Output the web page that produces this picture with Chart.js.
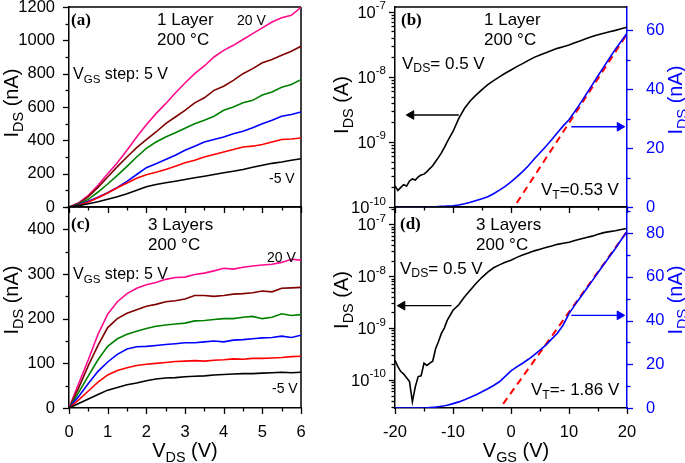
<!DOCTYPE html>
<html><head><meta charset="utf-8">
<script src="https://cdn.jsdelivr.net/npm/chart.js@4"></script>
<style>
html,body{margin:0;padding:0;background:#fff;}
body{width:685px;height:463px;overflow:hidden;position:relative;font-family:"Liberation Sans",Arial,sans-serif;}
canvas{position:absolute;}
.t{position:absolute;white-space:nowrap;line-height:1;color:#000;font-size:17px;z-index:5;}
.t sub{font-size:72%;vertical-align:baseline;position:relative;top:0.32em;}
.s14{font-size:14px;}
.s16{font-size:16px;}
.lbl{font-family:"Liberation Serif","Times New Roman",serif;font-weight:bold;font-size:17px;}
.rot{font-size:20px;transform:translate(-50%,-50%) rotate(-90deg);}
.hor{font-size:20px;transform:translate(-50%,-50%);}
.blue{color:#0000ff;}
</style>
</head><body>
<canvas id="cA" width="345" height="232" style="left:0;top:0"></canvas>
<canvas id="cC" width="345" height="263" style="left:0;top:200px"></canvas>
<canvas id="cB" width="345" height="232" style="left:340px;top:0"></canvas>
<canvas id="cD" width="345" height="263" style="left:340px;top:200px"></canvas>

<div class="t lbl" style="left:71px;top:11px">(a)</div>
<div class="t" style="left:157px;top:11px">1 Layer</div>
<div class="t" style="left:157px;top:31px">200 °C</div>
<div class="t s14" style="left:237px;top:13px">20 V</div>
<div class="t s16" style="left:73px;top:66px">V<sub>GS</sub> step: 5 V</div>
<div class="t s14" style="left:269px;top:171px">-5 V</div>

<div class="t lbl" style="left:71px;top:215px">(c)</div>
<div class="t" style="left:148px;top:216px">3 Layers</div>
<div class="t" style="left:148px;top:235.5px">200 °C</div>
<div class="t s14" style="left:267px;top:250px">20 V</div>
<div class="t s16" style="left:73px;top:266px">V<sub>GS</sub> step: 5 V</div>
<div class="t s14" style="left:272px;top:381px">-5 V</div>

<div class="t lbl" style="left:401px;top:11px">(b)</div>
<div class="t" style="left:484px;top:11px">1 Layer</div>
<div class="t" style="left:484px;top:31px">200 °C</div>
<div class="t" style="left:402px;top:54.5px">V<sub>DS</sub>= 0.5 V</div>
<div class="t" style="left:541px;top:181px">V<sub>T</sub>=0.53 V</div>

<div class="t lbl" style="left:400px;top:215px">(d)</div>
<div class="t" style="left:476px;top:216px">3 Layers</div>
<div class="t" style="left:476px;top:235.5px">200 °C</div>
<div class="t" style="left:400px;top:259.5px">V<sub>DS</sub>= 0.5 V</div>
<div class="t" style="left:531px;top:381px">V<sub>T</sub>=- 1.86 V</div>

<div class="t rot" style="left:11px;top:103px">I<sub>DS</sub> (nA)</div>
<div class="t rot" style="left:11px;top:300px">I<sub>DS</sub> (nA)</div>
<div class="t rot" style="left:341px;top:105px">I<sub>DS</sub> (A)</div>
<div class="t rot" style="left:341px;top:300px">I<sub>DS</sub> (A)</div>
<div class="t rot blue" style="left:675px;top:100px">I<sub>DS</sub> (nA)</div>
<div class="t rot blue" style="left:675px;top:300px">I<sub>DS</sub> (nA)</div>
<div class="t hor" style="left:185px;top:450px">V<sub>DS</sub> (V)</div>
<div class="t hor" style="left:516px;top:450px">V<sub>GS</sub> (V)</div>

<script>
// ---------------- DATA ----------------
// Panel (a): 1 layer output curves, I_DS (nA) vs V_DS (V), V_GS = -5..20 V
const aVds = [0,0.25,0.5,0.75,1,1.25,1.5,1.75,2,2.25,2.5,2.75,3,3.25,3.5,3.75,4,4.25,4.5,4.75,5,5.25,5.5,5.75,6];
const aI20 = [0,25,70,130,200,265,340,420,494,560,620,684,744,800,846,900,940,970,1005,1040,1075,1110,1135,1150,1198];
const aI15 = [0,22,62,118,180,242,300,356,404,450,500,540,580,625,655,700,725,760,800,830,865,885,910,935,964];
const aI10 = [0,18,46,90,138,190,244,300,352,390,420,445,472,500,520,545,580,600,625,640,672,690,718,735,764];
const aI5  = [0,14,34,58,86,118,154,195,236,260,285,310,340,365,390,405,420,440,455,475,500,520,545,555,570];
const aI0  = [0,10,30,55,84,115,144,172,194,208,225,245,265,280,300,315,330,345,360,365,375,390,405,408,414];
const aIm5 = [0,8,20,32,46,62,80,100,122,135,145,155,165,175,185,195,205,215,225,238,250,262,270,280,290];

// Panel (c): 3 layers output curves
const cVds = [0,0.25,0.5,0.75,1,1.25,1.5,1.75,2,2.25,2.5,2.75,3,3.25,3.5,3.75,4,4.25,4.5,4.75,5,5.25,5.5,5.75,6];
const cI20 = [0,55,108,165,210,238,256,268,276,281,288,292,293,299,302,307,313,311,315,318,320,322,326,333,331];
const cI15 = [0,45,95,140,180,200,212,220,228,232,238,240,244,252,252,250,252,255,256,258,262,260,268,269,270];
const cI10 = [0,35,72,108,138,155,165,172,178,183,186,188,190,195,196,198,200,200,203,205,200,203,211,207,209];
const cI5  = [0,26,55,82,103,120,132,137,138,140,142,144,146,146,148,150,148,152,153,155,157,158,161,158,163];
const cI0  = [0,18,38,58,74,84,90,95,98,100,102,104,105,106,105,107,108,110,109,111,111,112,113,115,116];
const cIm5 = [0,10,20,30,40,46,52,56,61,65,67,68,70,71,72,74,75,76,77,77,78,79,80,79,80];

// Panel (b): 1 layer transfer curve, V_DS = 0.5 V
const bVgs = [-20,-19.5,-19,-18.5,-18,-17.5,-17,-16.5,-16,-15.5,-15,-14.5,-14,-13.5,-13,-12.5,-12,-11.5,-11,
  -10,-9,-8,-7,-6,-5,-4,-3,-2,-1,0,1,2,3,4,5,6,7,8,9,10,11,12,13,14,15,16,17,18,19,20];
const bLog = [2.1e-10,1.8e-10,2.0e-10,2.2e-10,2.1e-10,2.5e-10,2.7e-10,2.6e-10,2.9e-10,3.1e-10,3.2e-10,3.5e-10,3.9e-10,4.3e-10,5.0e-10,5.8e-10,6.8e-10,8.2e-10,1.0e-9,
  1.45e-9,2.3e-9,3.3e-9,4.3e-9,5.3e-9,6.4e-9,7.6e-9,8.8e-9,1.0e-8,1.14e-8,1.28e-8,1.44e-8,1.6e-8,1.8e-8,2.0e-8,2.18e-8,2.35e-8,2.55e-8,2.75e-8,2.92e-8,3.1e-8,3.35e-8,3.6e-8,3.9e-8,4.2e-8,4.45e-8,4.7e-8,4.95e-8,5.2e-8,5.5e-8,5.8e-8];
const bLin = [0,0,0,0,0,0,0,0,0,0,0,0,0.05,0.1,0.1,0.15,0.2,0.25,0.3,
  0.4,0.7,1.1,1.6,2.2,2.8,3.5,4.5,5.7,7.0,8.5,10.2,12.0,14.0,16.3,18.4,20.5,22.8,25.2,27.5,29.6,32.4,35.3,38.3,41.4,44.5,47.5,50.5,53.5,56.2,58.9];
const bFitX = [1.0, 20];
const bFitY = [1.4, 58.6];

// Panel (d): 3 layers transfer curve
const dVgs = [-20,-19.5,-19,-18.5,-18,-17.5,-17,-16.5,-16,-15.5,-15,-14.5,-14,-13.5,-13,-12.5,-12,-11.5,-11,
  -10,-9,-8,-7,-6,-5,-4,-3,-2,-1,0,1,2,3,4,5,6,7,8,9,10,11,12,13,14,15,16,17,18,19,20];
const dLog = [2.4e-10,1.8e-10,1.45e-10,1.3e-10,1.1e-10,0.93e-10,3.8e-11,7.4e-11,1.16e-10,1.2e-10,2.1e-10,1.9e-10,2.1e-10,2.3e-10,4.0e-10,5.5e-10,7.9e-10,1.0e-9,1.4e-9,
  2.2e-9,2.8e-9,4.0e-9,5.4e-9,7.3e-9,9.5e-9,1.2e-8,1.45e-8,1.65e-8,1.85e-8,2.03e-8,2.3e-8,2.55e-8,2.8e-8,3.07e-8,3.3e-8,3.55e-8,3.8e-8,4.1e-8,4.3e-8,4.5e-8,4.85e-8,5.2e-8,5.55e-8,5.9e-8,6.4e-8,6.9e-8,7.2e-8,7.5e-8,7.9e-8,8.3e-8];
const dLin = [0,0,0,0,0,0,0,0,0,0,0,0,0.2,0.3,0.4,0.6,0.8,1.0,1.3,
  2.0,2.8,3.8,4.9,6.1,7.4,8.8,10.3,12.0,14.5,17.0,18.8,20.5,22.3,24.3,26.5,28.8,31.5,34.2,38.0,43.2,47.1,50.8,54.5,58.2,62.0,65.7,69.3,73.0,77.0,80.8];
const dFitX = [-1.35, 20];
const dFitY = [1.9, 80.8];

// Arrows (start, end) pointing to their axes
const bArrowLeftX = [-9.0, -17.2],  bArrowLeftY = [2.6e-9, 2.6e-9];
const bArrowRightX = [10.4, 18.75], bArrowRightY = [27.2, 27.2];
const dArrowLeftX = [-10.25, -18.74], dArrowLeftY = [2.7e-9, 2.7e-9];
const dArrowRightX = [10.4, 18.74], dArrowRightY = [42.4, 42.4];

// Tick positions / labels
const acXMajor = [0,1,2,3,4,5,6], acXMinor = [0.5,1.5,2.5,3.5,4.5,5.5];
const aYMajor = [0,200,400,600,800,1000,1200], aYMinor = [100,300,500,700,900,1100];
const cYMajor = [0,100,200,300,400], cYMinor = [50,150,250,350,450];
const bdXMajor = [-20,-10,0,10,20], bdXMinor = [-15,-5,5,15];
const bLogMajor = [1e-10,1e-9,1e-8,1e-7];
const bLogMinor = [2e-10,3e-10,4e-10,5e-10,6e-10,7e-10,8e-10,9e-10,2e-9,3e-9,4e-9,5e-9,6e-9,7e-9,8e-9,9e-9,2e-8,3e-8,4e-8,5e-8,6e-8,7e-8,8e-8,9e-8];
const dLogMajor = [1e-10,1e-9,1e-8,1e-7];
const dLogMinor = [3e-11,4e-11,5e-11,6e-11,7e-11,8e-11,9e-11,2e-10,3e-10,4e-10,5e-10,6e-10,7e-10,8e-10,9e-10,2e-9,3e-9,4e-9,5e-9,6e-9,7e-9,8e-9,9e-9,2e-8,3e-8,4e-8,5e-8,6e-8,7e-8,8e-8,9e-8,2e-7];
const bRMajor = [0,20,40,60], bRMinor = [10,30,50];
const dRMajor = [0,20,40,60,80], dRMinor = [10,30,50,70,90];

// ---------------- DRAWING ----------------
const FONT = "'Liberation Sans', Arial, sans-serif";
Chart.defaults.font.family = FONT;
Chart.defaults.color = '#000';
const BLACK='#000000', RED='#ff0000', BLUE='#0000ff', GREEN='#008000', BROWN='#800000', PINK='#ff0a8c';

function zeroPad(s){ s.paddingTop=0; s.paddingBottom=0; s.paddingLeft=0; s.paddingRight=0; }
function pts(xs, ys){ return xs.map((x,i)=>({x:x, y:ys[i]})); }
function line(xs, ys, color, axis, extra){
  return Object.assign({data:pts(xs,ys), borderColor:color, backgroundColor:color, borderWidth:1.6, pointRadius:0, tension:0, fill:false, yAxisID:axis||'y'}, extra||{});
}
function arrow(xs, ys, color, axis, rot){
  return {data:pts(xs,ys), borderColor:color, backgroundColor:color, borderWidth:1.4, tension:0, fill:false, yAxisID:axis,
    pointRadius:[0,5], pointStyle:['circle','triangle'], pointRotation:rot, pointBackgroundColor:color, pointBorderColor:color, pointBorderWidth:1};
}

const tickPlugin = {
  id:'tickMarks',
  afterDraw(chart, args, opts){
    const ctx=chart.ctx, a=chart.chartArea;
    (opts.list||[]).forEach(d=>{
      const s=chart.scales[d.scale];
      ctx.save(); ctx.strokeStyle=d.color||'#000'; ctx.lineWidth=1.3;
      const draw=(v,len)=>{
        const p=Math.round(s.getPixelForValue(v))+0.5;
        ctx.beginPath();
        if(d.side==='bottom'){ ctx.moveTo(p,a.bottom); ctx.lineTo(p,a.bottom+len); }
        else if(d.side==='left'){ ctx.moveTo(a.left,p); ctx.lineTo(a.left-len,p); }
        else { ctx.moveTo(a.right,p); ctx.lineTo(a.right+len,p); }
        ctx.stroke();
      };
      d.major.forEach(v=>draw(v,6));
      d.minor.forEach(v=>draw(v,3.5));
      if(d.logLabels){
        // decade labels "10" with a raised exponent, placed by the log scale
        ctx.fillStyle='#000'; ctx.textBaseline='alphabetic'; ctx.textAlign='left';
        d.major.forEach(v=>{
          const p=s.getPixelForValue(v);
          const base='10', ex=String(Math.round(Math.log10(v)));
          ctx.font='16.5px '+FONT; const wb=ctx.measureText(base).width;
          ctx.font='11.5px '+FONT; const we=ctx.measureText(ex).width;
          const xr=a.left-9;
          ctx.font='16.5px '+FONT; ctx.fillText(base, xr-we-wb, p+6);
          ctx.font='11.5px '+FONT; ctx.fillText(ex, xr-we, p-2.5);
        });
      }
      ctx.restore();
    });
  }
};
const framePlugin = {
  id:'frame',
  beforeDatasetsDraw(chart, args, opts){
    const a=chart.chartArea, ctx=chart.ctx;
    ctx.save(); ctx.strokeStyle='#000'; ctx.lineWidth=1.5; ctx.beginPath();
    if((opts.sides||[]).includes('top')){ ctx.moveTo(a.left,a.top); ctx.lineTo(a.right,a.top); }
    if((opts.sides||[]).includes('right')){ ctx.moveTo(a.right,a.top); ctx.lineTo(a.right,a.bottom); }
    ctx.stroke(); ctx.restore();
  }
};

function xAxis(min,max,step,showLabels,h){
  return {type:'linear', position:'bottom', min:min, max:max, grid:{display:false}, border:{color:'#000',width:1.5},
    ticks:{display:showLabels, stepSize:step, padding:7, font:{size:16.5}, color:'#000', maxRotation:0, autoSkip:false, includeBounds:false, callback:(v)=>String(v)},
    afterFit:s=>{ s.height=h; zeroPad(s); }};
}
function yLin(min,max,step,w,color,pos){
  return {type:'linear', position:pos||'left', min:min, max:max, grid:{display:false}, border:{color:color||'#000',width:1.5},
    ticks:{stepSize:step, padding:pos==='right'?11:6, font:{size:16.5}, color:color||'#000', includeBounds:false, autoSkip:false, callback:(v)=>String(v)},
    afterFit:s=>{ s.width=w; zeroPad(s); }};
}
function yLog(min,max,w){
  return {type:'logarithmic', position:'left', min:min, max:max, grid:{display:false}, border:{color:'#000',width:1.5},
    ticks:{display:false},
    afterFit:s=>{ s.width=w; zeroPad(s); }};
}
function baseOpts(scales, ticks, sides){
  return {responsive:false, animation:false, events:[],
    layout:{padding:{left:0, top:7, right:44, bottom:0}},
    plugins:{legend:{display:false}, tooltip:{enabled:false}, tickMarks:{list:ticks}, frame:{sides:sides}},
    scales:scales};
}

// Panel (a)
new Chart(document.getElementById('cA'), {
  type:'line',
  data:{datasets:[line(aVds,aIm5,BLACK), line(aVds,aI0,RED), line(aVds,aI5,BLUE), line(aVds,aI10,GREEN), line(aVds,aI15,BROWN), line(aVds,aI20,PINK)]},
  options:baseOpts({x:xAxis(0,6,1,false,25), y:yLin(0,1200,200,69)},
    [{scale:'x',side:'bottom',major:acXMajor,minor:acXMinor},{scale:'y',side:'left',major:aYMajor,minor:aYMinor}], ['top','right']),
  plugins:[tickPlugin, framePlugin]
});
// Panel (c)
new Chart(document.getElementById('cC'), {
  type:'line',
  data:{datasets:[line(cVds,cIm5,BLACK), line(cVds,cI0,RED), line(cVds,cI5,BLUE), line(cVds,cI10,GREEN), line(cVds,cI15,BROWN), line(cVds,cI20,PINK)]},
  options:baseOpts({x:xAxis(0,6,1,true,55), y:yLin(0,450,100,69)},
    [{scale:'x',side:'bottom',major:acXMajor,minor:acXMinor},{scale:'y',side:'left',major:cYMajor,minor:cYMinor}], ['top','right']),
  plugins:[tickPlugin, framePlugin]
});
// Panel (b)
const optB = baseOpts({x:xAxis(-20,20,10,false,25), y:yLog(1e-10,1.19e-7,55), y2:yLin(0,67.8,20,58,BLUE,'right')},
    [{scale:'x',side:'bottom',major:bdXMajor,minor:bdXMinor},{scale:'y',side:'left',major:bLogMajor,minor:bLogMinor,logLabels:true},{scale:'y2',side:'right',major:bRMajor,minor:bRMinor,color:BLUE}], ['top']);
optB.layout.padding.right = 0;
new Chart(document.getElementById('cB'), {
  type:'line',
  data:{datasets:[
    line(bVgs,bLog,BLACK,'y'),
    line(bVgs,bLin,BLUE,'y2'),
    line(bFitX,bFitY,RED,'y2',{borderDash:[7,5],borderWidth:2}),
    arrow(bArrowLeftX,bArrowLeftY,BLACK,'y',-90),
    arrow(bArrowRightX,bArrowRightY,BLUE,'y2',90)
  ]},
  options:optB,
  plugins:[tickPlugin, framePlugin]
});
// Panel (d)
const optD = baseOpts({x:xAxis(-20,20,10,true,55), y:yLog(2.88e-11,2.15e-7,55), y2:yLin(0,92,20,58,BLUE,'right')},
    [{scale:'x',side:'bottom',major:bdXMajor,minor:bdXMinor},{scale:'y',side:'left',major:dLogMajor,minor:dLogMinor,logLabels:true},{scale:'y2',side:'right',major:dRMajor,minor:dRMinor,color:BLUE}], ['top']);
optD.layout.padding.right = 0;
new Chart(document.getElementById('cD'), {
  type:'line',
  data:{datasets:[
    line(dVgs,dLog,BLACK,'y'),
    line(dVgs,dLin,BLUE,'y2'),
    line(dFitX,dFitY,RED,'y2',{borderDash:[7,5],borderWidth:2}),
    arrow(dArrowLeftX,dArrowLeftY,BLACK,'y',-90),
    arrow(dArrowRightX,dArrowRightY,BLUE,'y2',90)
  ]},
  options:optD,
  plugins:[tickPlugin, framePlugin]
});
</script>
</body></html>
